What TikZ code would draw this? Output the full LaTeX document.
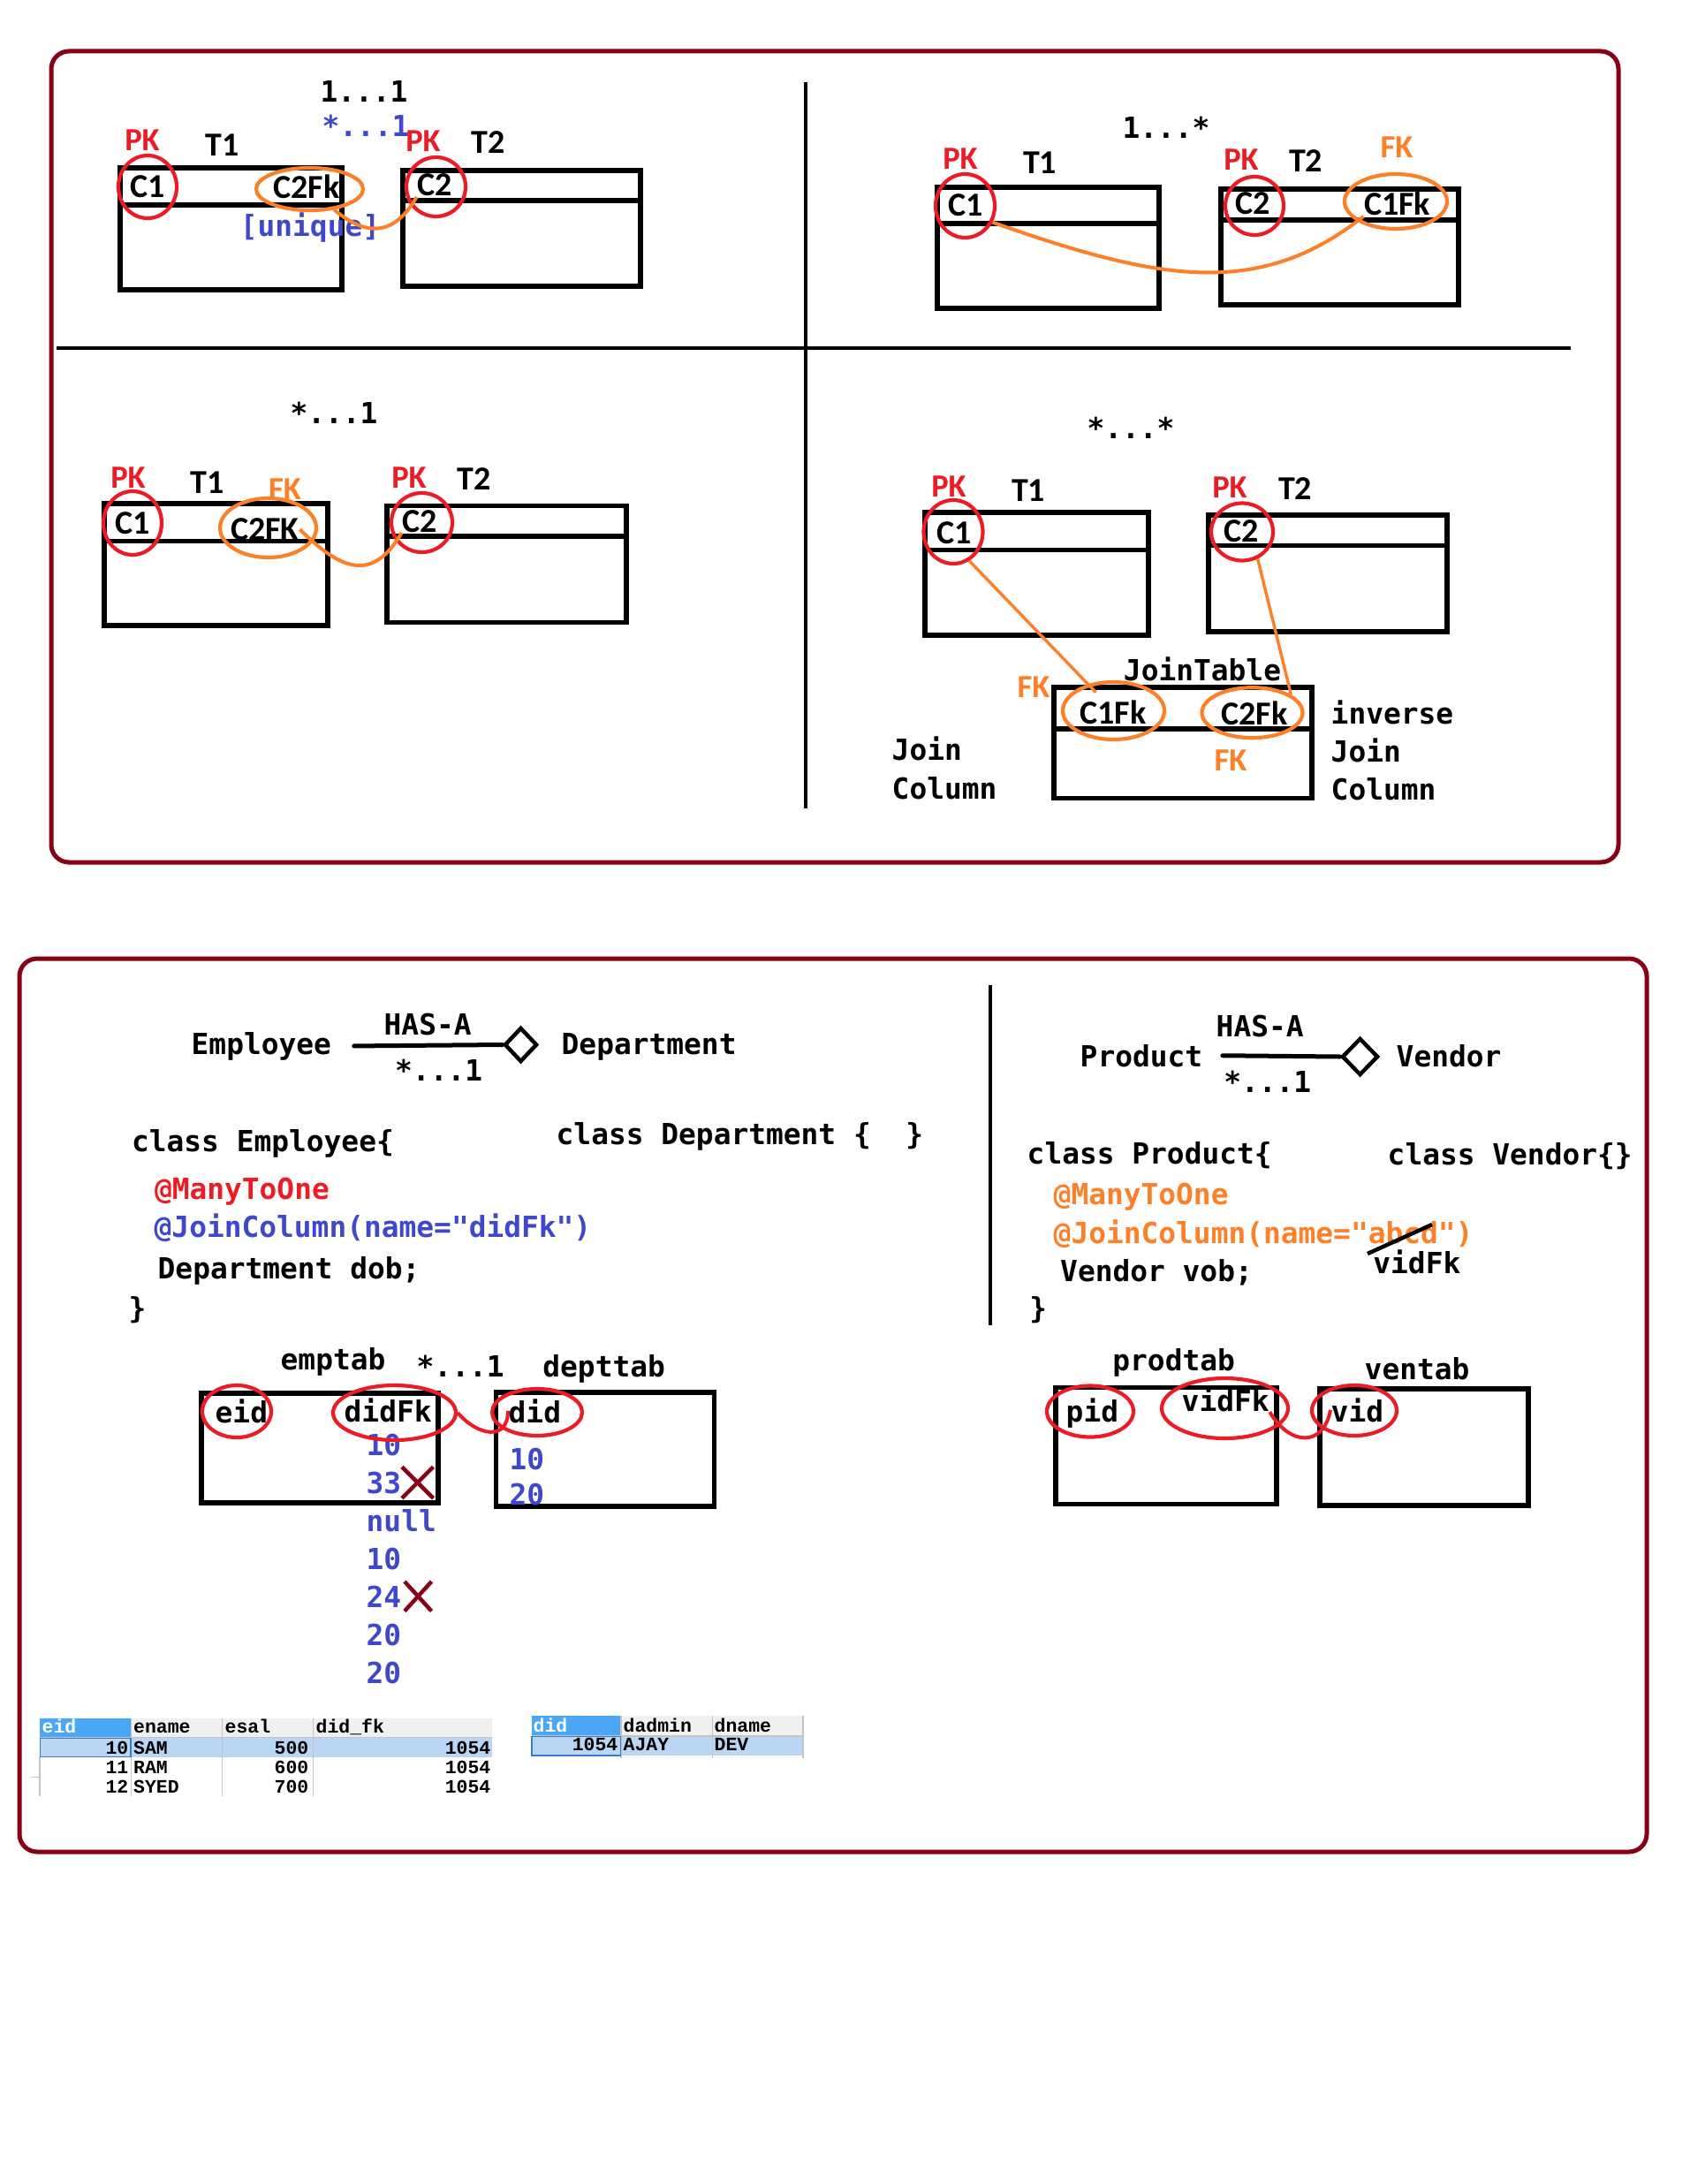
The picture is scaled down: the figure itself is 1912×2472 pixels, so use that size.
\documentclass[tikz,border=0pt]{standalone}
\usepackage{fontspec}
\newfontfamily\codefont{DejaVu Sans Mono}
\newfontfamily\labelfont{Carlito}
\newfontfamily\gridfont{Liberation Mono}
\usetikzlibrary{shapes.geometric,shapes.misc}
\definecolor{pkred}{HTML}{ED1C24}
\definecolor{fkorange}{HTML}{FF7F27}
\definecolor{indigo}{HTML}{3F48CC}
\definecolor{framered}{HTML}{880015}
\definecolor{hdrblue}{HTML}{4BA6F5}
\definecolor{selblue}{HTML}{B9D6F4}
\definecolor{hdrgray}{HTML}{F0F0F0}
\definecolor{gridgray}{HTML}{C4C4C4}
\definecolor{selborder}{HTML}{3A7BC8}

\begin{document}
\begin{tikzpicture}[x=0.1mm, y=-0.1mm,
    codetxt/.style={font=\codefont\bfseries\fontsize{9.35pt}{11pt}\selectfont, inner sep=0pt},
    lbltxt/.style={font=\labelfont\bfseries\fontsize{10.8pt}{12pt}\selectfont, inner sep=0pt},
    keytxt/.style={font=\labelfont\bfseries\fontsize{10.4pt}{12pt}\selectfont, inner sep=0pt},
    gridtxt/.style={font=\gridfont\bfseries\fontsize{6.1pt}{7pt}\selectfont, inner sep=0pt},
    tbl/.style={draw, line width=0.55mm, inner sep=0pt},
    pkring/.style={draw=pkred, ellipse, line width=0.42mm, inner sep=0pt},
    fkring/.style={draw=fkorange, ellipse, line width=0.42mm, inner sep=0pt},
    fkline/.style={draw=fkorange, line width=0.4mm},
    pkline/.style={draw=pkred, line width=0.4mm},
    outerframe/.style={draw=framered, line width=0.5mm, rounded corners=2mm},
    divline/.style={draw, line width=0.42mm},
    hasline/.style={draw, line width=0.5mm, line cap=round},
    hasdia/.style={draw, diamond, line width=0.45mm, inner sep=0pt},
    xmark/.style={draw=framered, cross out, line width=0.45mm, inner sep=0pt},
    strikeline/.style={draw, line width=0.45mm},
    gridline/.style={draw=gridgray, line width=0.12mm}]

\fill[white] (0,0) rectangle (1912,2472);
\useasboundingbox (0,0) rectangle (1912,2472);

\draw[outerframe] (58,58) rectangle (1832,976);
\draw[outerframe] (22,1085) rectangle (1864,2096);
\draw[divline] (912,93) -- (912,915);
\draw[divline] (64,394) -- (1778,394);
\draw[divline] (1121,1115) -- (1121,1500);

% one to one
\node[tbl, minimum width=25.1mm, minimum height=13.8mm] (q1t1) at (261.5,259) {};
\draw[tbl] ([yshift=-4.5mm]q1t1.north west) -- ([yshift=-4.5mm]q1t1.north east);
\node[tbl, minimum width=26.9mm, minimum height=13.1mm] (q1t2) at (590.5,258.5) {};
\draw[tbl] ([yshift=-3.7mm]q1t2.north west) -- ([yshift=-3.7mm]q1t2.north east);
\node[codetxt, anchor=base] (q1mult) at (412,116) {1...1};
\node[codetxt, anchor=base, text=indigo] (q1mult2) at (414,155) {*...1};
\node[keytxt, anchor=base, text=pkred] (q1pk1) at (161,171) {PK};
\node[lbltxt, anchor=base] (q1name1) at (252,177) {T1};
\node[lbltxt, anchor=base] (q1c1) at (167.5,224) {C1};
\node[lbltxt, anchor=base] (q1c2fk) at (347,225) {C2Fk};
\node[codetxt, anchor=base, text=indigo] (q1uniq) at (351,268) {[unique]};
\node[keytxt, anchor=base, text=pkred] (q1pk2) at (479,172) {PK};
\node[lbltxt, anchor=base] (q1name2) at (553,174) {T2};
\node[lbltxt, anchor=base] (q1c2) at (492,222) {C2};
\node[pkring, minimum width=6.6mm, minimum height=7.1mm] (q1c1ring) at (167,211.5) {};
\node[fkring, minimum width=12.1mm, minimum height=4.8mm] (q1c2fkring) at (350.5,214) {};
\node[pkring, minimum width=6.7mm, minimum height=6.7mm] (q1c2ring) at (493.5,211.5) {};
\draw[fkline] (q1c2fkring.-40) .. controls +(38,32) and +(-25,43) .. (q1c2.south west);

% one to many
\node[tbl, minimum width=25.1mm, minimum height=13.7mm] (q2t1) at (1186.5,280.5) {};
\draw[tbl] ([yshift=-4.4mm]q2t1.north west) -- ([yshift=-4.4mm]q2t1.north east);
\node[tbl, minimum width=26.9mm, minimum height=13.1mm] (q2t2) at (1516.5,279.5) {};
\draw[tbl] ([yshift=-3.8mm]q2t2.north west) -- ([yshift=-3.8mm]q2t2.north east);
\node[codetxt, anchor=base] (q2mult) at (1320,157) {1...*};
\node[keytxt, anchor=base, text=pkred] (q2pk1) at (1087,192) {PK};
\node[lbltxt, anchor=base] (q2name1) at (1177,197) {T1};
\node[lbltxt, anchor=base] (q2c1) at (1093,245) {C1};
\node[keytxt, anchor=base, text=pkred] (q2pk2) at (1405,193) {PK};
\node[lbltxt, anchor=base] (q2name2) at (1478,195) {T2};
\node[keytxt, anchor=base, text=fkorange] (q2fk) at (1581,179) {FK};
\node[lbltxt, anchor=base] (q2c2) at (1418,243) {C2};
\node[lbltxt, anchor=base] (q2c1fk) at (1581.5,244) {C1Fk};
\node[pkring, minimum width=6.7mm, minimum height=7.2mm] (q2c1ring) at (1092.5,233) {};
\node[pkring, minimum width=6.6mm, minimum height=6.6mm] (q2c2ring) at (1420,233) {};
\node[fkring, minimum width=11.6mm, minimum height=6.2mm] (q2c1fkring) at (1580,228) {};
\draw[fkline] (q2c1ring.-31) .. controls +(185,65) and +(-120,95) .. (q2c1fk.south west);

% many to one
\node[tbl, minimum width=25.3mm, minimum height=13.8mm] (q3t1) at (244.5,639) {};
\draw[tbl] ([yshift=-4.5mm]q3t1.north west) -- ([yshift=-4.5mm]q3t1.north east);
\node[tbl, minimum width=27.1mm, minimum height=13.2mm] (q3t2) at (573.5,638.7) {};
\draw[tbl] ([yshift=-3.7mm]q3t2.north west) -- ([yshift=-3.7mm]q3t2.north east);
\node[codetxt, anchor=base] (q3mult) at (378,480) {*...1};
\node[keytxt, anchor=base, text=pkred] (q3pk1) at (145,552) {PK};
\node[lbltxt, anchor=base] (q3name1) at (235,558) {T1};
\node[keytxt, anchor=base, text=fkorange] (q3fk) at (322.5,565.6) {FK};
\node[lbltxt, anchor=base] (q3c1) at (150,604) {C1};
\node[lbltxt, anchor=base] (q3c2fk) at (300,611.5) {C2FK};
\node[keytxt, anchor=base, text=pkred] (q3pk2) at (463,552) {PK};
\node[lbltxt, anchor=base] (q3name2) at (537,554) {T2};
\node[lbltxt, anchor=base] (q3c2) at (475,602) {C2};
\node[pkring, minimum width=6.6mm, minimum height=7.2mm] (q3c1ring) at (150,592) {};
\node[fkring, minimum width=10.9mm, minimum height=6.7mm] (q3c2fkring) at (303.5,597.5) {};
\node[pkring, minimum width=6.9mm, minimum height=6.7mm] (q3c2ring) at (477.5,591.5) {};
\draw[fkline] (q3c2fk.east) .. controls +(46,46) and +(-33,57) .. (q3c2.south west);

% many to many
\node[tbl, minimum width=25.3mm, minimum height=13.9mm] (q4t1) at (1173.5,649.5) {};
\draw[tbl] ([yshift=-4.5mm]q4t1.north west) -- ([yshift=-4.5mm]q4t1.north east);
\node[tbl, minimum width=27mm, minimum height=13.2mm] (q4t2) at (1503,649) {};
\draw[tbl] ([yshift=-3.7mm]q4t2.north west) -- ([yshift=-3.7mm]q4t2.north east);
\node[tbl, minimum width=29.2mm, minimum height=12.55mm] (q4join) at (1339,840.7) {};
\draw[tbl] ([yshift=-5mm]q4join.north west) -- ([yshift=-5mm]q4join.north east);
\node[codetxt, anchor=base] (q4mult) at (1280,497) {*...*};
\node[keytxt, anchor=base, text=pkred] (q4pk1) at (1074,562) {PK};
\node[lbltxt, anchor=base] (q4name1) at (1164,567.5) {T1};
\node[keytxt, anchor=base, text=pkred] (q4pk2) at (1392,563) {PK};
\node[lbltxt, anchor=base] (q4name2) at (1466,565) {T2};
\node[lbltxt, anchor=base] (q4c1) at (1080,615) {C1};
\node[lbltxt, anchor=base] (q4c2) at (1405,613) {C2};
\node[codetxt, anchor=base] (q4jtab) at (1361,770) {JoinTable};
\node[keytxt, anchor=base, text=fkorange] (q4fk1) at (1170,789.5) {FK};
\node[lbltxt, anchor=base] (q4c1fk) at (1260,819) {C1Fk};
\node[lbltxt, anchor=base] (q4c2fk) at (1420,820) {C2Fk};
\node[keytxt, anchor=base, text=fkorange] (q4fk2) at (1393,872) {FK};
\node[codetxt, anchor=base west] (q4inv1) at (1506,819) {inverse};
\node[codetxt, anchor=base west] (q4inv2) at (1506,862) {Join};
\node[codetxt, anchor=base west] (q4inv3) at (1506,905) {Column};
\node[codetxt, anchor=base west] (q4jc1) at (1009,860) {Join};
\node[codetxt, anchor=base west] (q4jc2) at (1009,904) {Column};
\node[pkring, minimum width=6.7mm, minimum height=7.2mm] (q4c1ring) at (1079,602) {};
\node[pkring, minimum width=7mm, minimum height=6.5mm] (q4c2ring) at (1406,602) {};
\node[fkring, minimum width=11.5mm, minimum height=6.5mm] (q4c1fkring) at (1260.5,804.5) {};
\node[fkring, minimum width=11.4mm, minimum height=5.7mm] (q4c2fkring) at (1417.5,806.7) {};
\draw[fkline, line width=0.34mm, shorten >=2.9mm] (q4c1ring.-61) -- (q4c1fkring.center);
\draw[fkline, line width=0.34mm] (q4c2ring.-60) -- (q4c2fkring.25);

% employee / department
\node[codetxt, anchor=base west] (b1emp) at (216,1193) {Employee};
\node[codetxt, anchor=base west] (b1has) at (434,1171) {HAS-A};
\node[codetxt, anchor=base west] (b1mult) at (446.5,1223) {*...1};
\node[codetxt, anchor=base west] (b1dept) at (635,1193) {Department};
\node[hasdia, minimum width=3.7mm, minimum height=3.9mm] (b1dia) at (589.5,1182.5) {};
\draw[hasline] ([xshift=2.5mm]b1emp.east) -- (b1dia.west);
\node[codetxt, anchor=base west] (b1cls1) at (148.4,1303) {class Employee\{};
\node[codetxt, anchor=base west] (b1cls2) at (629,1295) {class Department \{\ \ \}};
\node[codetxt, anchor=base west, text=pkred] (b1ann1) at (174.3,1357) {@ManyToOne};
\node[codetxt, anchor=base west, text=indigo] (b1ann2) at (174,1400) {@JoinColumn(name="didFk")};
\node[codetxt, anchor=base west] (b1fld) at (178,1447) {Department dob;};
\node[codetxt, anchor=base west] (b1end) at (145,1492) {\}};

\node[tbl, minimum width=26.8mm, minimum height=12.4mm] (b1emptab) at (362,1639) {};
\node[tbl, minimum width=24.7mm, minimum height=12.9mm] (b1depttab) at (685,1640.5) {};
\node[codetxt, anchor=base west] (b1ename) at (317,1550) {emptab};
\node[codetxt, anchor=base west] (b1tmult) at (471,1558) {*...1};
\node[codetxt, anchor=base west] (b1dname) at (613.7,1558) {depttab};
\node[codetxt, anchor=base west] (b1eid) at (243,1610) {eid};
\node[codetxt, anchor=base west] (b1didfk) at (389,1609) {didFk};
\node[codetxt, anchor=base west] (b1did) at (575,1610) {did};
\foreach \v [count=\i] in {10,33,null,10,24,20,20}
  \node[codetxt, anchor=base west, text=indigo] (b1fk\i) at (414,{1647+43*(\i-1)}) {\v};
\node[codetxt, anchor=base west, text=indigo] (b1dv1) at (576,1663) {10};
\node[codetxt, anchor=base west, text=indigo] (b1dv2) at (576,1703) {20};
\node[xmark, minimum width=3.1mm, minimum height=3.1mm, anchor=west] (b1x1) at (b1fk2.east) {};
\node[xmark, minimum width=2.6mm, minimum height=2.9mm, anchor=west] (b1x2) at ([xshift=0.3mm]b1fk5.east) {};
\node[pkring, minimum width=7.8mm, minimum height=5.9mm] (b1eidring) at (268,1597.5) {};
\node[pkring, minimum width=13.9mm, minimum height=6.2mm] (b1didfkring) at (446.5,1599) {};
\node[pkring, minimum width=10.2mm, minimum height=5.3mm] (b1didring) at (608,1598.5) {};
\draw[pkline] (b1didfkring.east) .. controls +(22,26) and +(0,35) .. (b1did.west);

% product / vendor
\node[codetxt, anchor=base west] (b2prod) at (1222,1207) {Product};
\node[codetxt, anchor=base west] (b2has) at (1376,1173) {HAS-A};
\node[codetxt, anchor=base west] (b2mult) at (1384.6,1236) {*...1};
\node[codetxt, anchor=base west] (b2vend) at (1580,1207) {Vendor};
\node[hasdia, minimum width=4.1mm, minimum height=4.2mm] (b2dia) at (1539.5,1196) {};
\draw[hasline] ([xshift=2.2mm]b2prod.east) -- (b2dia.west);
\node[codetxt, anchor=base west] (b2cls1) at (1162,1317) {class Product\{};
\node[codetxt, anchor=base west] (b2cls2) at (1570,1318) {class Vendor\{\}};
\node[codetxt, anchor=base west, text=fkorange] (b2ann1) at (1192,1363) {@ManyToOne};
\node[codetxt, anchor=base west, text=fkorange] (b2ann2) at (1192,1407) {@JoinColumn(name="abcd")};
\node[codetxt, anchor=base west] (b2new) at (1553.7,1441.7) {vidFk};
\node[codetxt, anchor=base west] (b2fld) at (1199.5,1450.7) {Vendor vob;};
\node[codetxt, anchor=base west] (b2end) at (1164.7,1492) {\}};
\draw[strikeline] (1548,1419) -- (1621,1386);

\node[tbl, minimum width=25mm, minimum height=13.2mm] (b2prodtab) at (1320,1636.7) {};
\node[tbl, minimum width=23.6mm, minimum height=13.2mm] (b2ventab) at (1612,1638) {};
\node[codetxt, anchor=base west] (b2pname) at (1258.7,1551.7) {prodtab};
\node[codetxt, anchor=base west] (b2vname) at (1544,1561.7) {ventab};
\node[codetxt, anchor=base west] (b2pid) at (1206,1609) {pid};
\node[codetxt, anchor=base west] (b2vidfk) at (1337,1597) {vidFk};
\node[codetxt, anchor=base west] (b2vid) at (1506,1609) {vid};
\node[pkring, minimum width=9.8mm, minimum height=5.8mm] (b2pidring) at (1234,1597.5) {};
\node[pkring, minimum width=14.3mm, minimum height=6.8mm] (b2vidfkring) at (1386.5,1594) {};
\node[pkring, minimum width=9.6mm, minimum height=5.7mm] (b2vidring) at (1533,1596.5) {};
\draw[pkline] (b2vidfk.south east) .. controls +(22,38) and +(-8,43) .. (b2vid.west);

% result grids
\fill[hdrgray] (45,1945) rectangle (557,1966.7);
\fill[hdrblue] (45,1945) rectangle (148.8,1966.7);
\fill[selblue] (45,1966.7) rectangle (557,1989);
\foreach \gx in {148.8,251.4,354.7}
  \draw[gridline] (\gx,1945) -- (\gx,2033);
\draw[gridline] (45,1966.7) -- (557,1966.7);
\draw[gridline] (45,1989) -- (45,2033);
\draw[gridline] (35,2011.7) -- (45,2011.7);
\draw[selborder, line width=0.15mm] (45.5,1967.3) rectangle (148.2,1988.4);
\node[gridtxt, anchor=base west, text=white] (g1h1) at (47,1961) {eid};
\node[gridtxt, anchor=base west] (g1h2) at (150.5,1961) {ename};
\node[gridtxt, anchor=base west] (g1h3) at (254,1961) {esal};
\node[gridtxt, anchor=base west] (g1h4) at (357,1961) {did\_fk};
\foreach \e/\n/\s [count=\r] in {10/SAM/500, 11/RAM/600, 12/SYED/700} {
  \node[gridtxt, anchor=base east] (g1id\r) at (146,{1985+22*(\r-1)}) {\e};
  \node[gridtxt, anchor=base west] (g1nm\r) at (150.5,{1985+22*(\r-1)}) {\n};
  \node[gridtxt, anchor=base east] (g1sal\r) at (350,{1985+22*(\r-1)}) {\s};
  \node[gridtxt, anchor=base east] (g1fk\r) at (556,{1985+22*(\r-1)}) {1054};
}

\fill[hdrgray] (601.7,1942) rectangle (909,1965);
\fill[hdrblue] (601.7,1942) rectangle (703,1965);
\fill[selblue] (601.7,1965) rectangle (909,1987.3);
\foreach \gx in {703,806.7,909}
  \draw[gridline] (\gx,1942) -- (\gx,1990);
\draw[gridline] (601.7,1965) -- (909,1965);
\draw[selborder, line width=0.15mm] (602.2,1965.5) rectangle (702.5,1986.8);
\node[gridtxt, anchor=base west, text=white] (g2h1) at (603,1960) {did};
\node[gridtxt, anchor=base west] (g2h2) at (705,1960) {dadmin};
\node[gridtxt, anchor=base west] (g2h3) at (808,1960) {dname};
\node[gridtxt, anchor=base east] (g2id) at (700,1981.7) {1054};
\node[gridtxt, anchor=base west] (g2adm) at (705,1981.7) {AJAY};
\node[gridtxt, anchor=base west] (g2nm) at (808,1981.7) {DEV};
\end{tikzpicture}
\end{document}
